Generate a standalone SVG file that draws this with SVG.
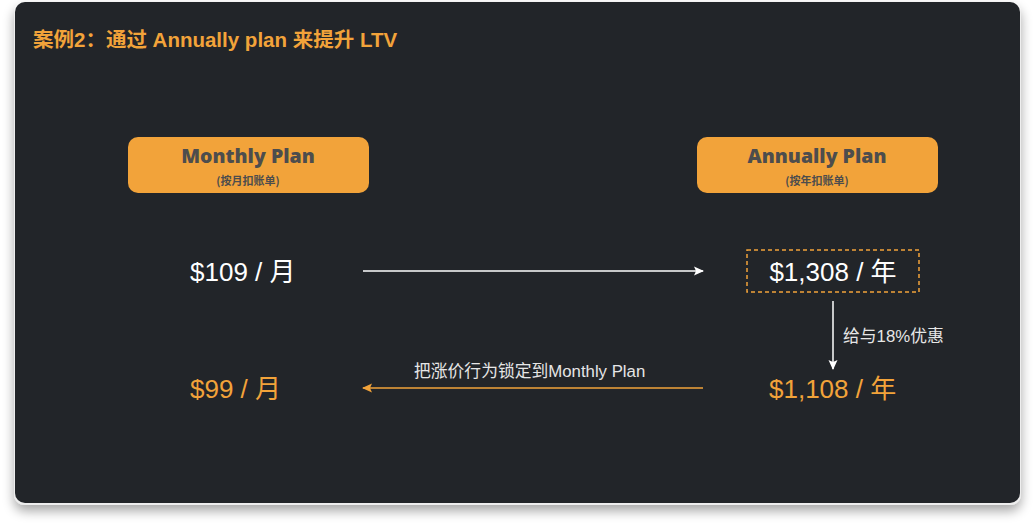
<svg xmlns="http://www.w3.org/2000/svg" width="1035" height="532" viewBox="0 0 1035 532">
<defs>
<filter id="sh" x="-5%" y="-5%" width="110%" height="115%">
<feGaussianBlur in="SourceAlpha" stdDeviation="6"/>
<feOffset dy="6"/>
<feComponentTransfer><feFuncA type="linear" slope="0.35"/></feComponentTransfer>
<feMerge><feMergeNode/><feMergeNode in="SourceGraphic"/></feMerge>
</filter>
<marker id="aw" markerWidth="10" markerHeight="10" refX="9" refY="5" orient="auto" markerUnits="userSpaceOnUse">
<path d="M0,0.5 L10,5 L0,9.5 L2,5 Z" fill="#ffffff"/>
</marker>
<marker id="ao" markerWidth="10" markerHeight="10" refX="9" refY="5" orient="auto" markerUnits="userSpaceOnUse">
<path d="M0,0.5 L10,5 L0,9.5 L2,5 Z" fill="#F2A33A"/>
</marker>
</defs>
<style>
.cn{font-family:"Liberation Sans","Noto Sans CJK SC",sans-serif}
.plan{fill:#F2A33A}
.pt{font-family:"Open Sans","Noto Sans CJK SC",sans-serif;font-weight:800;font-size:19.5px;fill:#4d4d4d;text-anchor:middle}
.ps{font-family:"Noto Sans CJK SC",sans-serif;font-weight:700;font-size:11px;fill:#4d4d4d;text-anchor:middle}
.price{font-family:"Liberation Sans","Noto Sans CJK SC",sans-serif;font-size:26px}
.lbl{font-family:"Liberation Sans","Noto Sans CJK SC",sans-serif;font-size:16.8px;fill:#e6e6e6}
</style>
<rect x="0" y="0" width="1035" height="532" fill="#ffffff"/>
<rect x="14" y="2" width="1007" height="503" rx="11" fill="#eeeeee" filter="url(#sh)"/>
<rect x="15" y="2" width="1005" height="501" rx="10" fill="#222529"/>
<text x="33" y="47" class="cn" font-size="20.5" font-weight="700" fill="#F2A33A">案例2：通过 Annually plan 来提升 LTV</text>
<g id="monthly-plan">
<rect x="128" y="137" width="241" height="56" rx="10" class="plan"/>
<text x="248" y="163" class="pt">Monthly Plan</text>
<text x="248" y="185" class="ps">(按月扣账单)</text>
</g>
<g id="annually-plan">
<rect x="697" y="137" width="241" height="56" rx="10" class="plan"/>
<text x="817" y="163" class="pt">Annually Plan</text>
<text x="817" y="185" class="ps">(按年扣账单)</text>
</g>
<g id="price-109">
<text x="190" y="281" class="price" fill="#ffffff">$109 / 月</text>
</g>
<g id="price-1308">
<rect x="747" y="250" width="172" height="42" fill="none" stroke="#F2A33A" stroke-width="1.5" stroke-dasharray="4,3"/>
<text x="833" y="281" class="price" fill="#ffffff" text-anchor="middle">$1,308 / 年</text>
</g>
<g id="price-1108">
<text x="769" y="398" class="price" fill="#F2A33A">$1,108 / 年</text>
</g>
<g id="price-99">
<text x="190" y="398" class="price" fill="#F2A33A">$99 / 月</text>
</g>
<g id="connectors">
<line x1="363" y1="271" x2="703" y2="271" stroke="#ffffff" stroke-width="1.5" marker-end="url(#aw)"/>
<line x1="833" y1="301" x2="833" y2="369" stroke="#ffffff" stroke-width="1.5" marker-end="url(#aw)"/>
<text x="843" y="342" class="lbl">给与18%优惠</text>
<line x1="703" y1="388" x2="363" y2="388" stroke="#F2A33A" stroke-width="1.5" marker-end="url(#ao)"/>
<text x="414" y="377" class="lbl">把涨价行为锁定到Monthly Plan</text>
</g>
</svg>
